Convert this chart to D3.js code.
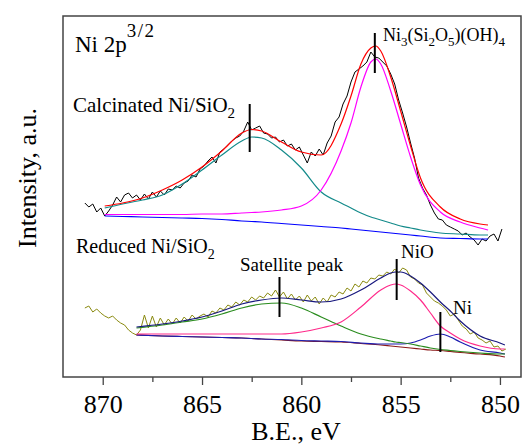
<!DOCTYPE html>
<html>
<head>
<meta charset="utf-8">
<script src="https://d3js.org/d3.v7.min.js"></script>
<style>
  body { margin: 0; background: #fff; }
  svg { display: block; font-family: "Liberation Serif", "Times New Roman", serif; }
  text { font-family: "Liberation Serif", "Times New Roman", serif; }
  .fit { fill: none; stroke-width: 1.2; }
  .scan { fill: none; stroke-width: 1; }
  .mark { stroke: #000; stroke-width: 2; }
  .axis text { font-size: 26px; fill: #000; }
  .axis line { stroke: #444; stroke-width: 1.3; }
</style>
</head>
<body>
<svg></svg>
<script>
// raw scans, 0.2 eV steps starting at 870.9 eV (intensity in a.u.)
const scanStart = 870.9, scanStep = 0.2;
const calcCounts = [174,170,173,165,169,161,166,172,180,175,
  182,184,179,182,177,183,178,185,180,186,
  182,188,187,191,189,194,196,202,200,208,
  211,216,220,214,225,228,232,236,239,241,
  246,255,247,249,251,244,243,239,240,235,
  237,231,233,227,230,222,214,225,221,228,
  222,234,241,255,260,273,281,295,305,308,
  311,315,325,320,319,315,311,303,293,277,
  264,250,234,219,199,189,182,172,164,158,
  157,152,150,148,146,142,144,140,137,132,
  138,136,141,143,136,148];
const redCounts = [69,71,65,68,64,61,59,61,57,54,
  52,47,44,42,47,62,49,61,50,59,
  52,58,53,59,54,60,56,62,58,61,
  63,60,66,64,69,67,72,70,75,72,
  77,75,80,77,81,79,84,81,87,80,
  85,78,83,77,81,75,82,76,80,73,
  79,75,82,80,85,83,89,86,93,90,
  96,94,99,98,102,101,105,103,108,104,
  109,107,100,98,94,92,84,80,76,74,
  71,67,61,63,57,51,48,43,45,39,
  37,34,36,30,31,26,28];

// calcinated fit
const calcFitBE = [869.9,869,868,867,866,865,864,863,862.5,862,861,860,859,858,857.5,857,856.5,856.25,856,855.5,855,854.5,854,853,852,851,850.6];
const calcBg   = [161,160.5,160,159.5,159,158.5,157.5,156,155.5,155,153.5,152,150.5,149,148,147,146,145.5,145,144,143,142,141,139,138.5,138,138];
const calcSat  = [169,173,177,182,193,207,222,236,240,239,227,209,185,174,169,164,160,158.5,157,154,151,149,147,144,143,142,142];
const calcMain = [162.5,162.5,162.5,162.5,162.5,163,163,164,164.5,165,167,171,187,226,254,290,315,318,313,286,253,220,192,165,155,149,147];
const calcEnv  = [171,174,179,187,197,210,226,244,247.5,246,235,225,222,253,281,313,329,331,326,300,266,231,199,170,158,153,152];

// reduced fit
const redFitBE = [868.3,867,866,865,864,863,862,861,860,859,858,857,856,855.5,855.25,855,854.5,854,853.5,853,852.5,852,851,850,849.75];
const redBg  = [42,41,40.5,40,39.5,39,38,37,36,35.5,35,33.5,32,31,30.5,30,29,28,27,26.5,25.5,24.5,23,21,20];
const redNi  = [42,41,40.5,40,39.5,39,38,37.5,36.5,36,35.5,34,33,33,33,33,34,37,41,43,40,35,27,24,23];
const redSat = [49,52,55,58,63,69,73,74,69,60,51,43,38,36,35,34.5,33,31,29,27.5,26.5,25.5,24,23,23];
const redNiO = [43,43,43,43,43,43,43,43,45,49,55,70,87,92,93,92,86,77,64,51,44,38,31,28,28];
const redEnv = [50,53,56,60,66,73,77,79,77,75,78,87,99,104,105,105,101,94,85,75,66,56,41,34,32];

// peak markers: BE, low, high
const markBE = [862.6, 856.3, 861.1, 855.2, 853.0];
const markLo = [225, 304, 60, 77, 25];
const markHi = [273, 344, 100, 118, 65];

const majorTicks = [870, 865, 860, 855, 850];
const minorTicks = [867.5, 862.5, 857.5, 852.5];

const W = 529, H = 445;
const L = 63, R = 521, T = 16, B = 377;
const serif = '"Liberation Serif", "Times New Roman", serif';

const svg = d3.select("svg").attr("width", W).attr("height", H);

const x = d3.scaleLinear().domain([872, 848.94]).range([L, R]);
const y = d3.scaleLinear().domain([0, 361]).range([B, T]);

const line = d3.line().x(d => x(d[0])).y(d => y(d[1])).curve(d3.curveMonotoneX);
const raw = d3.line().x(d => x(d[0])).y(d => y(d[1]));

function pairs(be, vals) { return vals.map((v, i) => [be[i], v]); }
function scan(vals) { return vals.map((v, i) => [scanStart - i * scanStep, v]); }

const g = svg.append("g");

// calcinated sample
g.append("path").attr("class", "scan").attr("stroke", "#000").attr("d", raw(scan(calcCounts)));
g.append("path").attr("class", "fit").attr("stroke", "#0000ff").attr("d", line(pairs(calcFitBE, calcBg)));
g.append("path").attr("class", "fit").attr("stroke", "#138a8a").attr("d", line(pairs(calcFitBE, calcSat)));
g.append("path").attr("class", "fit").attr("stroke", "#ff00ff").attr("d", line(pairs(calcFitBE, calcMain)));
g.append("path").attr("class", "fit").attr("stroke", "#ff0000").attr("d", line(pairs(calcFitBE, calcEnv)));

// reduced sample
g.append("path").attr("class", "scan").attr("stroke", "#8a8a10").attr("d", raw(scan(redCounts)));
g.append("path").attr("class", "fit").attr("stroke", "#8b1a1a").attr("d", line(pairs(redFitBE, redBg)));
g.append("path").attr("class", "fit").attr("stroke", "#1c1cb0").attr("d", line(pairs(redFitBE, redNi)));
g.append("path").attr("class", "fit").attr("stroke", "#2a8c1e").attr("d", line(pairs(redFitBE, redSat)));
g.append("path").attr("class", "fit").attr("stroke", "#ff2a8a").attr("d", line(pairs(redFitBE, redNiO)));
g.append("path").attr("class", "fit").attr("stroke", "#18187e").attr("d", line(pairs(redFitBE, redEnv)));

// markers
markBE.forEach((be, i) => {
  g.append("line").attr("class", "mark")
    .attr("x1", x(be)).attr("x2", x(be))
    .attr("y1", y(markLo[i])).attr("y2", y(markHi[i]));
});

// frame
svg.append("rect").attr("x", L).attr("y", T).attr("width", R - L).attr("height", B - T)
  .attr("fill", "none").attr("stroke", "#444").attr("stroke-width", 1.5);

// axes
const ax = svg.append("g").attr("class", "axis").attr("transform", `translate(0,${B})`)
  .call(d3.axisBottom(x).tickValues(majorTicks).tickSize(8).tickFormat(d3.format("d")));
ax.attr("font-family", null).attr("font-size", null);
ax.select(".domain").remove();
ax.selectAll("text").attr("dy", null).attr("y", 36)
  .style("font-family", serif).style("font-size", "26px");
const ax2 = svg.append("g").attr("class", "axis").attr("transform", `translate(0,${B})`)
  .call(d3.axisBottom(x).tickValues(minorTicks).tickSize(5).tickFormat(""));
ax2.select(".domain").remove();

svg.append("text").attr("x", 296).attr("y", 440).attr("text-anchor", "middle")
  .attr("font-size", 26).text("B.E., eV");
svg.append("text").attr("transform", "translate(36,178) rotate(-90)").attr("text-anchor", "middle")
  .attr("font-size", 26).text("Intensity, a.u.");

// rich labels
function rich(xp, yp, size, parts) {
  const t = svg.append("text").attr("x", xp).attr("y", yp).attr("font-size", size);
  let shift = 0;
  parts.forEach(p => {
    const s = t.append("tspan").text(p[0]);
    let target = 0;
    if (p[1] === "sub") { target = p[2]; s.attr("font-size", p[3]); }
    if (p[1] === "sup") { target = -p[2]; s.attr("font-size", p[3]); }
    if (target - shift !== 0) s.attr("dy", target - shift);
    shift = target;
  });
  return t;
}

rich(75, 52, 23, [["Ni 2p"], ["3/2", "sup", 15, 19]]).select("tspan:nth-child(2)").attr("letter-spacing", 1.5);
rich(73, 112, 21, [["Calcinated Ni/SiO"], ["2", "sub", 6, 15]]);
rich(383, 41, 18, [["Ni"], ["3", "sub", 5, 13], ["(Si"], ["2", "sub", 5, 13], ["O"], ["5", "sub", 5, 13], [")(OH)"], ["4", "sub", 5, 13]]);
rich(76, 253, 20, [["Reduced Ni/SiO"], ["2", "sub", 6, 14]]);
svg.append("text").attr("x", 240).attr("y", 271).attr("font-size", 19).text("Satellite peak");
svg.append("text").attr("x", 401).attr("y", 258).attr("font-size", 19).text("NiO");
svg.append("text").attr("x", 453).attr("y", 314).attr("font-size", 19).text("Ni");
</script>
</body>
</html>
